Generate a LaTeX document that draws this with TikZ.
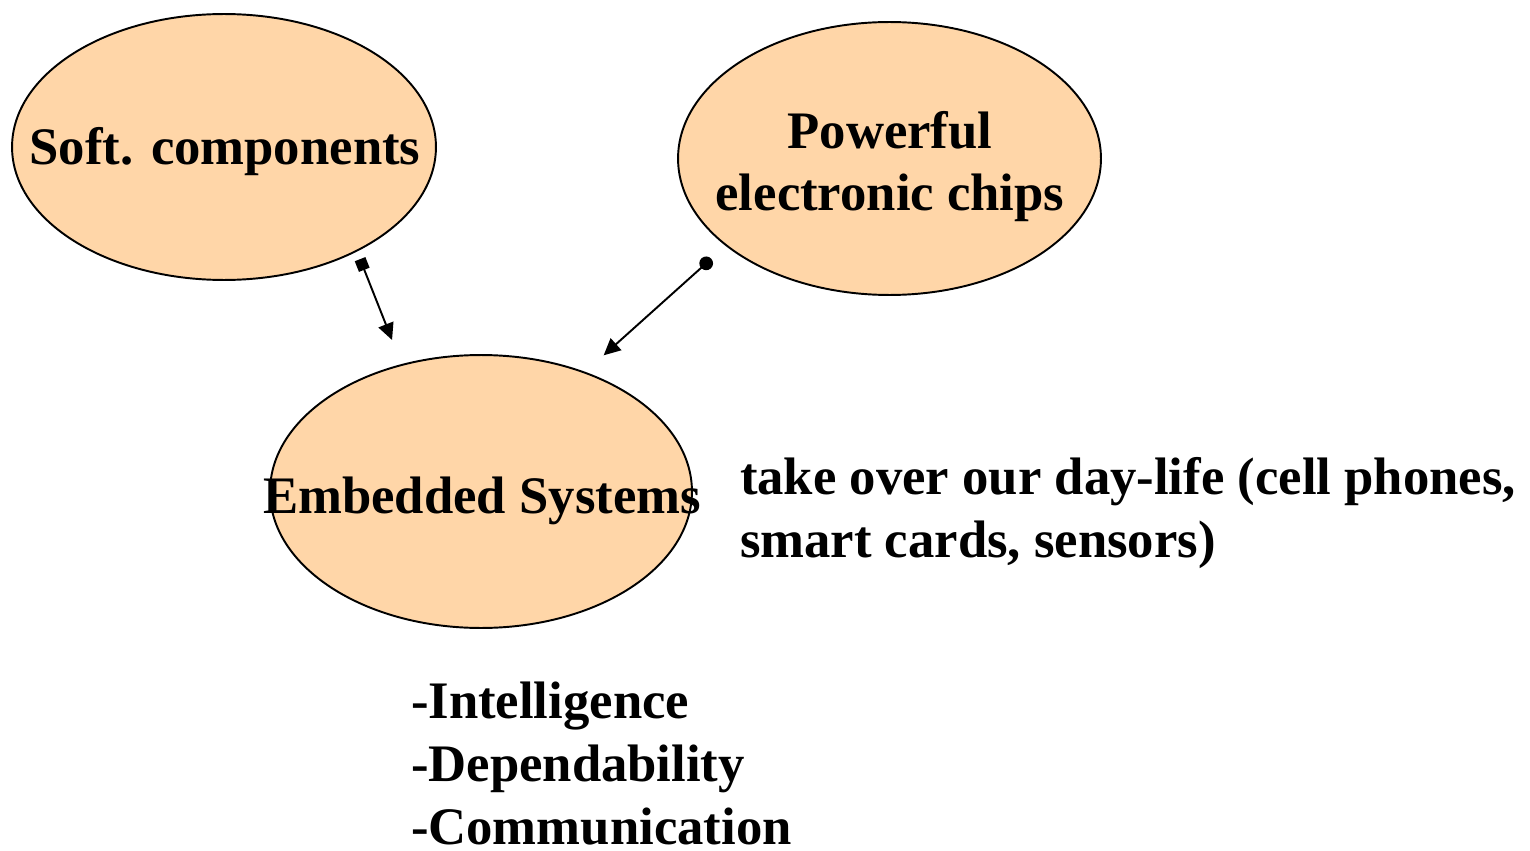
\documentclass[tikz,border=0pt]{standalone}
\usepackage{fontspec}
\setmainfont{Liberation Serif}
\usetikzlibrary{arrows.meta,shapes.geometric}
\definecolor{peach}{HTML}{FFD6A8}
\begin{document}
\begin{tikzpicture}[x=0.02cm, y=-0.02cm,
  bubble/.style={ellipse, draw=black, line width=1.1pt, fill=peach, inner sep=0pt, outer sep=0pt},
  txt/.style={font=\bfseries\fontsize{30}{35.7}\selectfont, inner sep=0pt, outer sep=0pt},
  link/.style={line width=1.1pt}]
  \useasboundingbox (0,0) rectangle (1530,851);

  % the three bubbles (multi-line labels are anchored on their last baseline)
  \node[bubble, minimum width=8.48cm, minimum height=5.32cm] (soft) at (224,147) {};
  \node[txt, anchor=base] (softlbl) at (225,165) {Soft. components};

  \node[bubble, minimum width=8.46cm, minimum height=5.46cm] (chips) at (889.5,158.5) {};
  \node[txt, anchor=base, align=center] (chipslbl) at (890,211) {Powerful\\electronic chips};

  \node[bubble, minimum width=8.44cm, minimum height=5.46cm] (emb) at (481,491.5) {};
  \node[txt, anchor=base] (emblbl) at (482,513) {Embedded Systems};

  % free text
  \node[txt, anchor=base west, align=left] (daylife) at (740,557)
    {take over our day-life (cell phones,\\smart cards, sensors)};
  \node[txt, anchor=base west, align=left] (traits) at (411,844)
    {-Intelligence\\-Dependability\\-Communication};

  % connectors
  \draw[link, {Square[length=6.5pt, width=6.5pt]}-{Triangle[length=9.5pt, width=9pt]},
        shorten <=5.2pt, shorten >=15.3pt] (soft.-38.6) -- (emb.122.6);
  \draw[link, {Circle[length=7.8pt]}-{Triangle[length=9.5pt, width=9pt]},
        shorten <=11.5pt, shorten >=14.7pt] (chips.208.9) -- (emb.49.5);
\end{tikzpicture}
\end{document}
